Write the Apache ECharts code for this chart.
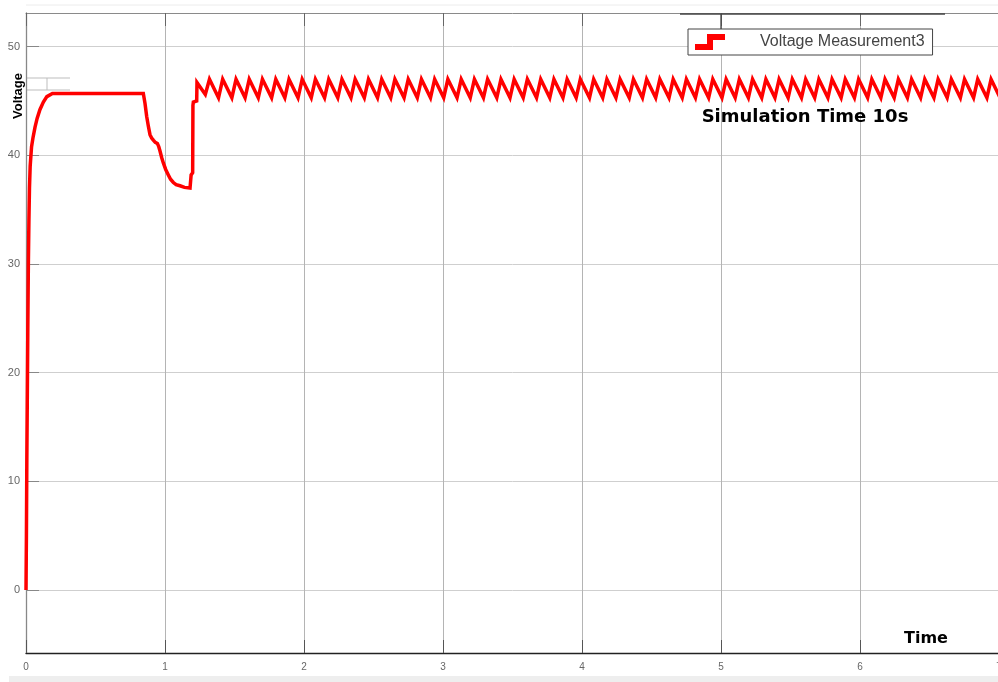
<!DOCTYPE html>
<html>
<head>
<meta charset="utf-8">
<script src="https://cdn.jsdelivr.net/npm/echarts@6.0.0/dist/echarts.min.js"></script>
<style>
  html, body { margin: 0; padding: 0; background: #ffffff; }
  #chart { width: 998px; height: 682px; }
</style>
</head>
<body>
<div id="chart"></div>
<script>
// ---- data ----
const seriesName = 'Voltage Measurement3';
const xTicks = [0, 1, 2, 3, 4, 5, 6, 7];
const yTicks = [0, 10, 20, 30, 40, 50];

// start-up rise, flat part, dip and recovery  [time s, voltage V]
const startTrace = [
  [0, 0], [0.003, 5], [0.006, 12], [0.009, 17], [0.013, 24], [0.017, 30],
  [0.021, 34], [0.025, 37], [0.03, 39], [0.04, 40.8], [0.05, 41.6], [0.065, 42.6],
  [0.08, 43.4], [0.1, 44.2], [0.125, 44.9], [0.15, 45.4], [0.19, 45.7], [0.5, 45.7],
  [0.844, 45.7], [0.856, 44.8], [0.868, 43.6], [0.88, 42.7], [0.892, 41.9], [0.904, 41.6],
  [0.916, 41.4], [0.93, 41.2], [0.945, 41.1], [0.955, 40.8], [0.964, 40.4], [0.976, 39.8],
  [0.988, 39.3], [1.005, 38.7], [1.024, 38.2], [1.04, 37.8], [1.06, 37.5], [1.08, 37.3],
  [1.108, 37.2], [1.14, 37.05], [1.18, 36.99], [1.186, 36.99], [1.188, 38.2], [1.199, 38.4],
  [1.201, 44.6], [1.204, 44.9], [1.228, 45.0], [1.230, 46.7], [1.240, 46.8], [1.290, 45.6]
];

// sawtooth ripple: peak times / trough times and their voltages
const ripplePeakTimes = [
  1.320, 1.415, 1.511, 1.606, 1.701, 1.797, 1.892, 1.987, 2.082, 2.178,
  2.273, 2.368, 2.464, 2.559, 2.654, 2.750, 2.845, 2.940, 3.035, 3.131,
  3.226, 3.321, 3.417, 3.512, 3.607, 3.703, 3.798, 3.893, 3.988, 4.084,
  4.179, 4.274, 4.370, 4.465, 4.560, 4.656, 4.751, 4.846, 4.941, 5.037,
  5.132, 5.227, 5.323, 5.418, 5.513, 5.609, 5.704, 5.799, 5.894, 5.990,
  6.085, 6.180, 6.276, 6.371, 6.466, 6.562, 6.657, 6.752, 6.847, 6.943
];
const rippleTroughTimes = [
  1.385, 1.481, 1.576, 1.671, 1.767, 1.862, 1.957, 2.052, 2.148, 2.243,
  2.338, 2.434, 2.529, 2.624, 2.720, 2.815, 2.910, 3.005, 3.101, 3.196,
  3.291, 3.387, 3.482, 3.577, 3.673, 3.768, 3.863, 3.958, 4.054, 4.149,
  4.244, 4.340, 4.435, 4.530, 4.626, 4.721, 4.816, 4.911, 5.007, 5.102,
  5.197, 5.293, 5.388, 5.483, 5.579, 5.674, 5.769, 5.864, 5.960, 6.055,
  6.150, 6.246, 6.341, 6.436, 6.532, 6.627, 6.722, 6.817, 6.913, 7.008
];
const ripplePeakVolt = 47.0;
const rippleTroughVolt = 45.3;

// ---- build the series data from the arrays ----
const voltageTrace = startTrace.slice();
for (let i = 0; i < ripplePeakTimes.length; i++) {
  voltageTrace.push([ripplePeakTimes[i], ripplePeakVolt]);
  voltageTrace.push([rippleTroughTimes[i], rippleTroughVolt]);
}

const chart = echarts.init(document.getElementById('chart'), null, { renderer: 'canvas' });

const tickFont = 'Liberation Sans';

const option = {
  backgroundColor: '#ffffff',
  animation: false,
  grid: { left: 26, top: 13, right: -1, bottom: 29, containLabel: false, outerBoundsMode: 'none' },
  legend: {
    show: true,
    left: 688,
    top: 29,
    padding: [5, 8, 5, 7],
    backgroundColor: '#ffffff',
    borderColor: '#444444',
    borderWidth: 1,
    borderRadius: 0,
    itemWidth: 30,
    itemHeight: 16,
    icon: 'path://M0,10 L12,10 L12,0 L30,0 L30,6 L18,6 L18,16 L0,16 Z',
    textStyle: { color: '#444444', fontSize: 16, fontFamily: tickFont, padding: [0, 0, 0, 30] },
    data: [seriesName]
  },
  xAxis: [
    {
      type: 'value', min: 0, max: 7, interval: 1,
      axisLine: { show: true, onZero: false, lineStyle: { color: '#222222', width: 1.3 } },
      axisTick: { show: true, inside: true, length: 13, lineStyle: { color: '#555555' } },
      axisLabel: { color: '#666666', fontSize: 10, margin: 9, fontFamily: tickFont },
      splitLine: { show: true, lineStyle: { color: '#b4b4b4', width: 1 } }
    },
    {
      type: 'value', position: 'top', min: 0, max: 7, interval: 1,
      axisLine: { show: true, onZero: false, lineStyle: { color: '#8a8a8a', width: 1 } },
      axisTick: { show: true, inside: true, length: 13, lineStyle: { color: '#666666' } },
      axisLabel: { show: false },
      splitLine: { show: false }
    }
  ],
  yAxis: {
    type: 'value', min: -5.8, max: 53.1,
    axisLine: { show: true, onZero: false, lineStyle: { color: '#888888', width: 1.3 } },
    axisTick: { show: true, inside: true, length: 13, customValues: yTicks, lineStyle: { color: '#888888' } },
    axisLabel: { customValues: yTicks, color: '#666666', fontSize: 11, margin: 6, fontFamily: tickFont },
    splitLine: { show: true, lineStyle: { color: '#cfcfcf', width: 1 } }
  },
  series: [
    {
      name: seriesName,
      type: 'line',
      xAxisIndex: 0,
      data: voltageTrace,
      showSymbol: false,
      symbol: 'none',
      smooth: false,
      lineStyle: { color: '#ff0000', width: 3.5, join: 'miter' },
      itemStyle: { color: '#ff0000' },
      z: 5
    }
  ],
  graphic: [
    // thin outer frame lines of the screenshot
    { type: 'line', silent: true, shape: { x1: 26, y1: 5, x2: 998, y2: 5 }, style: { stroke: '#ececec', lineWidth: 1 } },
    { type: 'rect', silent: true, shape: { x: 9, y: 676, width: 989, height: 6 }, style: { fill: '#eeeeee' } },
    // darker top segment above legend and its connector
    { type: 'line', silent: true, shape: { x1: 680, y1: 14, x2: 945, y2: 14 }, style: { stroke: '#444444', lineWidth: 1.3 }, z: 10 },
    { type: 'line', silent: true, shape: { x1: 721, y1: 14, x2: 721, y2: 29 }, style: { stroke: '#444444', lineWidth: 1.3 }, z: 10 },
    // small grey bracket near the y axis
    { type: 'line', silent: true, shape: { x1: 26, y1: 78, x2: 70, y2: 78 }, style: { stroke: '#bdbdbd', lineWidth: 1 } },
    { type: 'line', silent: true, shape: { x1: 26, y1: 90, x2: 70, y2: 90 }, style: { stroke: '#bdbdbd', lineWidth: 1 } },
    { type: 'line', silent: true, shape: { x1: 47, y1: 78, x2: 47, y2: 90 }, style: { stroke: '#bdbdbd', lineWidth: 1 } },
    // axis titles and annotation
    {
      type: 'text', silent: true, x: 18, y: 96, rotation: Math.PI / 2, z: 20,
      style: { text: 'Voltage', font: 'bold 13px "Liberation Sans"', fill: '#000000', textAlign: 'center', textVerticalAlign: 'middle' }
    },
    {
      type: 'text', silent: true, x: 805, y: 117, z: 20,
      style: { text: 'Simulation Time 10s', font: 'bold 18px "DejaVu Sans"', fill: '#000000', textAlign: 'center', textVerticalAlign: 'middle' }
    },
    {
      type: 'text', silent: true, x: 926, y: 639, z: 20,
      style: { text: 'Time', font: 'bold 16px "DejaVu Sans"', fill: '#000000', textAlign: 'center', textVerticalAlign: 'middle' }
    }
  ]
};

chart.setOption(option);
</script>
</body>
</html>
